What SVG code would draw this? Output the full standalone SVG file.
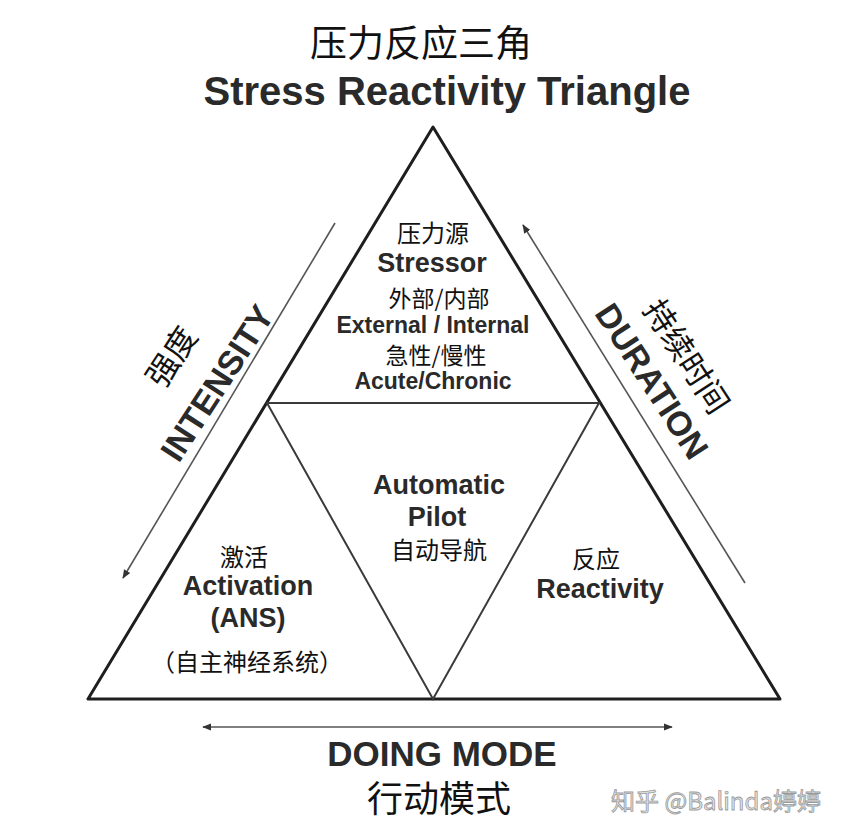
<svg xmlns="http://www.w3.org/2000/svg" width="846" height="836" viewBox="0 0 846 836">
<style>
.cjk{font-family:"Noto Sans CJK SC","Noto Sans",sans-serif;fill:#111;text-anchor:middle}
.en{font-family:"Liberation Sans",Arial,sans-serif;font-weight:bold;fill:#2a2a2a;text-anchor:middle}
.outer{fill:none;stroke:#1e1e1e;stroke-width:3;stroke-linejoin:round}
.inner{fill:none;stroke:#3a3a3a;stroke-width:2}
.arrow{fill:none;stroke:#555;stroke-width:1.6}
</style>
<defs>
<marker id="ah" viewBox="0 0 10 10" refX="9" refY="5" markerWidth="9" markerHeight="9" markerUnits="userSpaceOnUse" orient="auto-start-reverse">
<path d="M0,1 L10,5 L0,9 Z" fill="#333"/>
</marker>
</defs>
<rect width="846" height="836" fill="#fff"/>
<g id="title">
<text class="cjk" x="421" y="57" font-size="37">压力反应三角</text>
<text class="en" x="447" y="105" font-size="40" fill="#333">Stress Reactivity Triangle</text>
</g>
<g id="triangles">
<polygon class="outer" points="433,127 88,699 780,699"/>
<polygon class="inner" points="267,403 599,403 433,699"/>
</g>
<g id="connectors">
<line class="arrow" x1="335" y1="223" x2="123" y2="578" marker-end="url(#ah)"/>
<line class="arrow" x1="745" y1="583" x2="523" y2="225" marker-end="url(#ah)"/>
<line class="arrow" x1="203" y1="727" x2="672" y2="727" marker-start="url(#ah)" marker-end="url(#ah)"/>
</g>
<g id="stressor">
<text class="cjk" x="433" y="242" font-size="24">压力源</text>
<text class="en" x="432" y="272" font-size="27">Stressor</text>
<text class="cjk" x="439" y="307" font-size="23">外部/内部</text>
<text class="en" x="433" y="333" font-size="23">External / Internal</text>
<text class="cjk" x="436" y="364" font-size="23">急性/慢性</text>
<text class="en" x="433" y="389" font-size="23">Acute/Chronic</text>
</g>
<g id="autopilot">
<text class="en" x="439" y="494" font-size="27">Automatic</text>
<text class="en" x="437" y="526" font-size="27">Pilot</text>
<text class="cjk" x="439" y="559" font-size="24">自动导航</text>
</g>
<g id="activation">
<text class="cjk" x="244" y="566" font-size="24">激活</text>
<text class="en" x="248" y="595" font-size="27">Activation</text>
<text class="en" x="248" y="627" font-size="27">(ANS)</text>
<text class="cjk" x="247" y="671" font-size="24">（自主神经系统）</text>
</g>
<g id="reactivity">
<text class="cjk" x="596" y="568" font-size="24">反应</text>
<text class="en" x="600" y="598" font-size="27">Reactivity</text>
</g>
<g id="intensity">
<text class="en" transform="translate(217,383) rotate(-57)" x="0" y="12" font-size="34" fill="#1a1a1a">INTENSITY</text>
<text class="cjk" transform="translate(172,357) rotate(-57)" x="0" y="11" font-size="32">强度</text>
</g>
<g id="duration">
<text class="en" transform="translate(652,381) rotate(57)" x="0" y="12" font-size="34" fill="#1a1a1a">DURATION</text>
<text class="cjk" transform="translate(686,357) rotate(57)" x="0" y="11" font-size="32">持续时间</text>
</g>
<g id="doing-mode">
<text class="en" x="442" y="766" font-size="35" fill="#1a1a1a">DOING MODE</text>
<text class="cjk" x="439" y="812" font-size="36">行动模式</text>
</g>
<g id="watermark">
<text x="716" y="810" font-size="24" font-family="Noto Sans CJK SC, sans-serif" text-anchor="middle" fill="#e6e6e6" stroke="#9a9a9a" stroke-width="0.8">知乎 @Balinda婷婷</text>
</g>
</svg>
